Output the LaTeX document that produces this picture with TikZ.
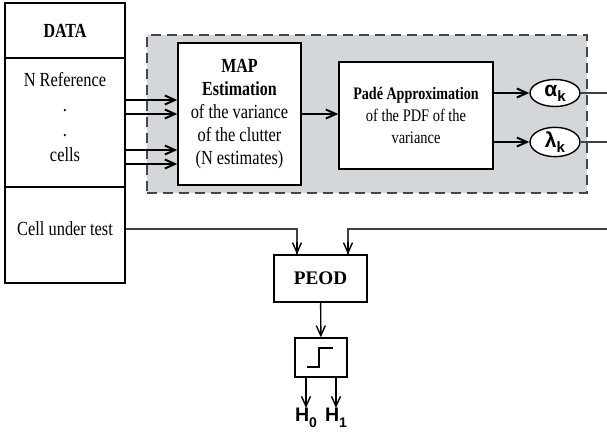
\documentclass[tikz,border=0pt]{standalone}
\usepackage{fontspec}
\setmainfont{Liberation Serif}[FakeStretch=0.82, BoldFeatures={FakeStretch=0.80}]
\setsansfont{Liberation Sans}
\newfontfamily\peodfont{Liberation Serif}
\usepackage{xcolor}
\usepackage{tikz}
\usetikzlibrary{shapes.geometric, arrows.meta, positioning, calc}

\definecolor{estimgray}{RGB}{211,215,218}
\definecolor{dashgray}{RGB}{70,70,70}

\begin{document}
\begin{tikzpicture}[
    x=0.5pt, y=-0.5pt,
    every node/.style={inner sep=0pt, font=\fontsize{10}{11.5}\selectfont},
    box/.style={rectangle, draw=black, line width=0.7pt, fill=white, align=center},
    databox/.style={rectangle, draw=black, line width=0.7pt, minimum width=60pt},
    param/.style={ellipse, draw=black, line width=0.7pt, fill=white, minimum width=25pt, minimum height=13.5pt, font=\sffamily\bfseries\fontsize{10.5}{10}\selectfont},
    line/.style={draw=black, line width=1pt, -{Straight Barb[length=5pt,width=4.5pt]}},
    thinline/.style={draw=black!75, line width=0.6pt},
    hyp/.style={font=\sffamily\bfseries\fontsize{9.8}{10}\selectfont}
]
\useasboundingbox (0,0) rectangle (607,434);

% data columns
\node[databox, minimum height=27.5pt] (datahead) at (65,30.5) {\bfseries DATA};
\node[databox, minimum height=64.5pt] (dataref) at (65,122.5) {};
\node[databox, minimum height=48pt] (datacut) at (65,235) {};
\node[align=center, font=\fontsize{10}{12.5}\selectfont] (reftext) at (65,117) {N Reference\\.\\.\\cells};
\node (celltext) at (65,229) {Cell under test};

% estimation stage
\node[rectangle, draw=dashgray, fill=estimgray, line width=0.7pt, dash pattern=on 5pt off 3pt,
      minimum width=220pt, minimum height=79pt] (estim) at (367,114) {};
\node[box, minimum width=61.5pt, minimum height=71pt] (map) at (239.5,114)
    {\bfseries MAP\\\bfseries Estimation\\of the variance\\of the clutter\\(N estimates)};
\node[box, minimum width=77pt, minimum height=53.5pt, font=\fontsize{8.8}{11}\selectfont] (pade) at (416,115.5)
    {\bfseries Padé Approximation\\of the PDF of the\\variance};
\node[param] (alpha) at (555,93) {α\raisebox{-0.45ex}{\fontsize{7.5}{7.5}\selectfont k}};
\node[param] (lambda) at (555,142) {λ\raisebox{-0.45ex}{\fontsize{7.5}{7.5}\selectfont k}};

% detection
\node[box, minimum width=46.5pt, minimum height=23.5pt] (peod) at (320.5,278.5)
    {\peodfont\bfseries\fontsize{9.6}{10}\selectfont PEOD};
\node[box, minimum width=26pt, minimum height=19.5pt] (thr) at (321,357.5) {};
\node[hyp, anchor=north] (h0) at (306,408) {H\raisebox{-0.5ex}{\fontsize{7}{7}\selectfont 0}};
\node[hyp, anchor=north] (h1) at (336,408) {H\raisebox{-0.5ex}{\fontsize{7}{7}\selectfont 1}};

\coordinate (alphaout) at (607,93);
\coordinate (lambdaout) at (607,142);
\coordinate (paramin) at (607,229);

% connectors
\foreach \yy in {100,114,150,164}
    \draw[line] (dataref.east |- 0,\yy) -- (map.west |- 0,\yy);
\draw[line] (map.east) -- (map.east -| pade.west);
\draw[line] (pade.east |- alpha) -- (alpha.west);
\draw[line] (pade.east |- lambda) -- (lambda.west);
\draw[thinline] (alpha.east) -- (alphaout);
\draw[thinline] (lambda.east) -- (lambdaout);
\draw[thinline] (datacut.east |- celltext) -| ([xshift=-11.75pt]peod.north);
\draw[thinline] (paramin) -| ([xshift=13.75pt]peod.north);
\draw[line, line width=0.7pt] ([xshift=-11.75pt,yshift=6pt]peod.north) -- ([xshift=-11.75pt]peod.north);
\draw[line, line width=0.7pt] ([xshift=13.75pt,yshift=6pt]peod.north) -- ([xshift=13.75pt]peod.north);
\draw[line, line width=0.7pt] (peod) -- (thr);
\draw[line, line width=0.7pt] (thr.south -| h0) -- (h0.north);
\draw[line, line width=0.7pt] (thr.south -| h1) -- (h1.north);

% step symbol
\draw[line width=0.7pt] ([shift={(-14,9.5)}]thr.center) -- ++(12,0) -- ++(0,-19) -- ++(14,0);

\end{tikzpicture}
\end{document}
